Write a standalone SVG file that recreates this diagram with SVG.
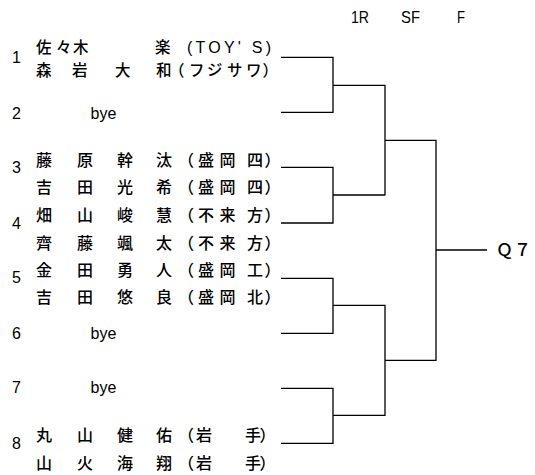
<svg xmlns="http://www.w3.org/2000/svg" width="535" height="475" viewBox="0 0 535 475">
<style>
  .bg{fill:#ffffff}
  .jp{font-family:"Noto Sans CJK JP","Noto Sans CJK SC",sans-serif;font-size:16px;font-weight:500;fill:#000}
  .jp1{font-size:15.5px}
  .lat{font-family:"Liberation Sans",Arial,sans-serif;font-size:16px;fill:#000}
  .hdr{font-family:"Liberation Sans",Arial,sans-serif;font-size:17px;fill:#000}
  .res{font-family:"Noto Sans CJK JP","Noto Sans CJK SC",sans-serif;font-size:17px;font-weight:500;fill:#000}
  .ln{stroke:#000;stroke-width:1.3;fill:none}
</style>
<rect class="bg" x="0" y="0" width="535" height="475"/>
<g id="headers">
  <text class="hdr" x="351" y="23.3" textLength="18" lengthAdjust="spacingAndGlyphs">1R</text>
  <text class="hdr" x="401" y="23.3" textLength="19" lengthAdjust="spacingAndGlyphs">SF</text>
  <text class="hdr" x="457" y="23.3" textLength="8" lengthAdjust="spacingAndGlyphs">F</text>
</g>
<g id="slot1">
  <text class="lat" x="12" y="63.3">1</text>
  <text class="jp jp1" x="36 56 73 155" y="53">佐々木楽</text>
  <text class="lat" x="187" y="53" font-size="15" textLength="84" lengthAdjust="spacing">(TOY' S)</text>
  <text class="jp jp1" x="36 72 115 156 169 189 207 227 246 262.5" y="75.5">森岩大和（フジサワ）</text>
</g>
<g id="slot2">
  <text class="lat" x="12" y="119.3">2</text>
  <text class="lat" x="90.5" y="119.3">bye</text>
</g>
<g id="slot3">
  <text class="lat" x="12" y="173.3">3</text>
  <text class="jp" x="36 77 117 156 178 198 219.5 247 264.5" y="165.5">藤原幹汰（盛岡四）</text>
  <text class="jp" x="36 77 117 156 178 198 219.5 247 264.5" y="192.5">吉田光希（盛岡四）</text>
</g>
<g id="slot4">
  <text class="lat" x="12" y="229">4</text>
  <text class="jp" x="36 77 117 156 178 198 219.5 247 264.5" y="220.5">畑山峻慧（不来方）</text>
  <text class="jp" x="36 77 117 156 178 198 219.5 247 264.5" y="248.5">齊藤颯太（不来方）</text>
</g>
<g id="slot5">
  <text class="lat" x="12" y="283.3">5</text>
  <text class="jp" x="36 77 117 156 178 198 219.5 247 264.5" y="275.5">金田勇人（盛岡工）</text>
  <text class="jp" x="36 77 117 156 178 198 219.5 247 264.5" y="302.5">吉田悠良（盛岡北）</text>
</g>
<g id="slot6">
  <text class="lat" x="12" y="339.3">6</text>
  <text class="lat" x="90.5" y="339.3">bye</text>
</g>
<g id="slot7">
  <text class="lat" x="12" y="393.3">7</text>
  <text class="lat" x="90.5" y="393.3">bye</text>
</g>
<g id="slot8">
  <text class="lat" x="12" y="449.3">8</text>
  <text class="jp" x="36 77 117 156 178 196 245 259.5" y="440.5">丸山健佑（岩手）</text>
  <text class="jp" x="36 77 117 156 178 196 245 259.5" y="468.5">山火海翔（岩手）</text>
</g>
<g id="result">
  <text class="res" x="496" y="256" letter-spacing="1">Ｑ７</text>
</g>
<g id="connectors">
  <path class="ln" d="M281 57.3H333M281 112.3H333M333 56.7V113"/>
  <path class="ln" d="M281 167.3H333M281 223H333M333 166.7V223.7"/>
  <path class="ln" d="M281 278.3H333M281 333.3H333M333 277.7V334"/>
  <path class="ln" d="M281 388.3H333M281 443.3H333M333 387.7V444"/>
  <path class="ln" d="M333 85.3H385M333 195H385M385 84.7V195.6"/>
  <path class="ln" d="M333 305.3H385M333 415.3H385M385 304.7V416"/>
  <path class="ln" d="M385 140.3H436M385 360.3H436M436 139.7V361"/>
  <path class="ln" d="M436 250H487"/>
</g>
</svg>
